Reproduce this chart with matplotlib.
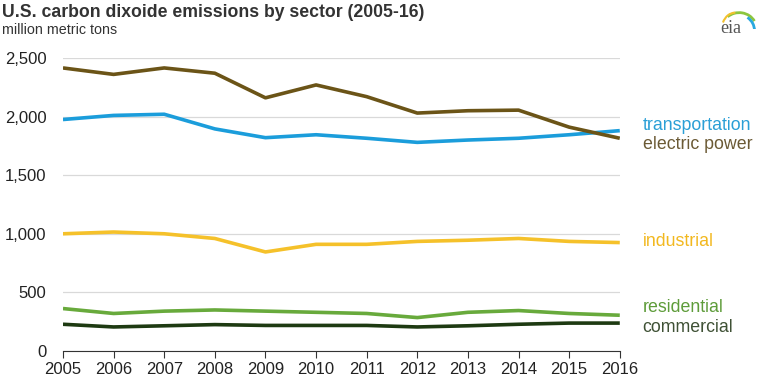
import numpy as np
import matplotlib.pyplot as plt
from matplotlib.patches import Arc

plt.rcParams['font.family'] = ['Liberation Sans', 'DejaVu Sans']

years = np.arange(2005, 2017)
electric = [2415, 2360, 2415, 2370, 2160, 2270, 2170, 2030, 2050, 2055, 1910, 1815]
transport = [1975, 2010, 2020, 1895, 1820, 1845, 1815, 1780, 1800, 1815, 1845, 1880]
industrial = [1000, 1015, 1000, 960, 845, 910, 910, 935, 945, 960, 935, 925]
residential = [362, 320, 340, 350, 340, 330, 320, 285, 330, 345, 320, 305]
commercial = [228, 205, 215, 225, 218, 218, 218, 205, 215, 228, 238, 238]

series = [
    ("transportation", transport, "#1b9ddb", "#2a9fd6", 1928),
    ("electric power", electric, "#6b5417", "#6b5a35", 1758),
    ("industrial", industrial, "#f5c12a", "#f2b81f", 930),
    ("residential", residential, "#68aa3c", "#5e9c3a", 370),
    ("commercial", commercial, "#1e3a12", "#3f5135", 203),
]

fig = plt.figure(figsize=(7.68, 3.83), dpi=100)
ax = fig.add_axes([0.082, 0.0836, 0.725, 0.765])

for name, vals, col, tcol, ly in series:
    ax.plot(years, vals, color=col, lw=2.6, solid_capstyle='butt')
    ax.text(2016.45, ly, name, color=tcol, fontsize=12.8, va='center', ha='left',
            clip_on=False)

ax.set_xlim(2005, 2016)
ax.set_ylim(0, 2500)
ax.set_xticks(years)
ax.set_xticklabels([str(y) for y in years], fontsize=12, color='#222222')
ax.set_yticks([0, 500, 1000, 1500, 2000, 2500])
ax.set_yticklabels(['0', '500', '1,000', '1,500', '2,000', '2,500'], fontsize=12, color='#222222')
ax.grid(axis='y', color='#d9d9d9', lw=0.9)
ax.set_axisbelow(True)
for s in ['left', 'right', 'top']:
    ax.spines[s].set_visible(False)
ax.spines['bottom'].set_color('#333333')
ax.tick_params(axis='y', length=0, pad=12)
ax.tick_params(axis='x', length=5, direction='out', color='#333333', pad=3)

fig.text(0.003, 0.968, "U.S. carbon dixoide emissions by sector (2005-16)",
         fontsize=12.7, fontweight='bold', color='#333333', va='center')
fig.text(0.003, 0.922, "million metric tons", fontsize=10.3, color='#333333', va='center')

# eia logo
fig.text(0.952, 0.925, "eia", fontsize=13, family='Liberation Serif', color='#555555',
         ha='center', va='center')
lax = fig.add_axes([0.935, 0.925, 0.05, 0.06])
lax.set_xlim(0, 1)
lax.set_ylim(0, 1)
lax.axis('off')
lax.add_patch(Arc((0.55, 0.0), 0.9, 1.4, theta1=40, theta2=120, color='#8cc63f', lw=2))
lax.add_patch(Arc((0.55, -0.1), 0.8, 1.4, theta1=0, theta2=70, color='#29a8e0', lw=2))
lax.add_patch(Arc((0.45, 0.0), 0.7, 1.4, theta1=90, theta2=140, color='#f2c12e', lw=1.5))

fig.savefig("out.png", dpi=100)
